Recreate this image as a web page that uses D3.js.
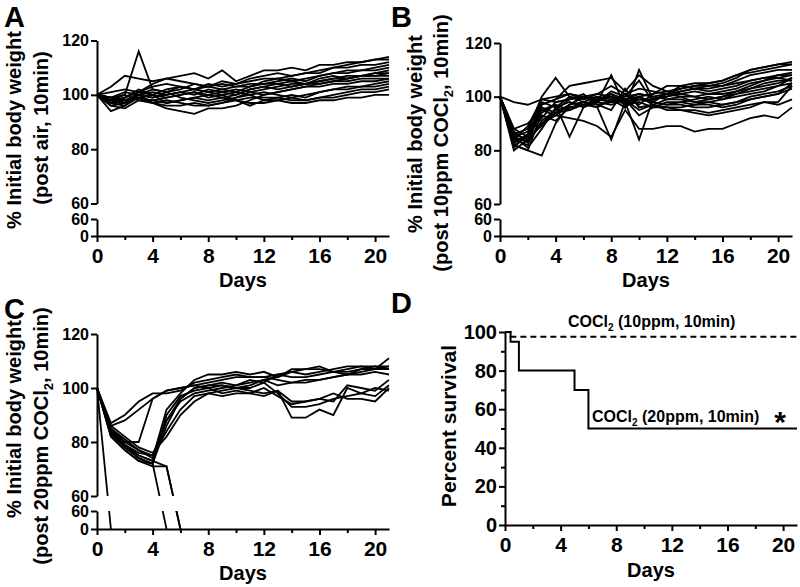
<!DOCTYPE html>
<html>
<head>
<meta charset="utf-8">
<script src="https://cdn.jsdelivr.net/npm/d3@7"></script>
<style>
  body { margin: 0; background: #fff; }
  text { font-family: Arial, "Liberation Sans", sans-serif; font-weight: bold; fill: #000; }
</style>
</head>
<body>
<svg id="fig" width="800" height="587"></svg>
<script>
// days 0..21, one weighing per day
var days = [0, 1, 2, 3, 4, 5, 6, 7, 8, 9, 10, 11, 12, 13, 14, 15, 16, 17, 18, 19, 20, 21];
var xTicks = [0, 4, 8, 12, 16, 20];
var xMinor = [2, 6, 10, 14, 18];
var upperTicks = [60, 80, 100, 120];
var lowerTicks = [0, 60];
var survTicks = [0, 20, 40, 60, 80, 100];
var survMinor = [10, 30, 50, 70, 90];

// A: air, 10 min
var weightAir = [
  [100, 98, 100, 116, 102, 101, 103, 102, 104, 103, 104, 105, 106, 106, 107, 108, 108, 110, 111, 112, 113, 114],
  [100, 103, 107, 106, 105, 106, 107, 108, 106, 109, 105, 107, 109, 109, 110, 109, 111, 111, 112, 112, 113, 113],
  [100, 96, 97, 101, 104, 106, 105, 104, 103, 105, 104, 106, 107, 108, 107, 108, 109, 110, 110, 111, 111, 112],
  [100, 99, 101, 100, 99, 101, 102, 104, 103, 102, 101, 103, 105, 106, 105, 106, 107, 108, 109, 109, 110, 111],
  [100, 97, 96, 100, 101, 100, 101, 102, 103, 104, 103, 104, 104, 105, 106, 105, 107, 108, 108, 109, 109, 110],
  [100, 94, 96, 99, 97, 95, 94, 93, 95, 95, 96, 98, 100, 101, 102, 103, 104, 105, 106, 107, 108, 109],
  [100, 98, 99, 102, 100, 97, 98, 99, 98, 99, 100, 102, 103, 104, 105, 104, 105, 106, 107, 107, 108, 108],
  [100, 99, 100, 98, 97, 98, 97, 96, 96, 97, 99, 101, 102, 103, 104, 104, 105, 106, 106, 107, 107, 108],
  [100, 101, 102, 101, 103, 104, 103, 102, 101, 102, 103, 103, 104, 104, 103, 104, 106, 107, 106, 107, 107, 107],
  [100, 97, 98, 100, 99, 100, 101, 100, 102, 101, 100, 102, 103, 102, 103, 104, 104, 105, 105, 106, 106, 106],
  [100, 96, 95, 98, 98, 99, 100, 101, 100, 101, 102, 101, 100, 101, 102, 103, 103, 104, 104, 105, 105, 106],
  [100, 98, 97, 99, 100, 102, 103, 102, 101, 100, 98, 96, 98, 99, 100, 99, 101, 102, 103, 103, 104, 105],
  [100, 99, 98, 100, 102, 101, 99, 98, 97, 98, 99, 100, 101, 100, 99, 100, 101, 102, 102, 103, 103, 104],
  [100, 97, 99, 101, 100, 99, 100, 101, 99, 100, 101, 100, 98, 98, 99, 98, 99, 100, 101, 102, 102, 103],
  [100, 98, 97, 100, 97, 96, 96, 97, 96, 97, 98, 99, 99, 99, 98, 98, 99, 99, 100, 101, 101, 102],
  [100, 99, 98, 99, 98, 97, 98, 99, 100, 99, 98, 97, 97, 98, 97, 97, 98, 98, 99, 99, 100, 100]
];

// B: 10 ppm COCl2, 10 min
var weight10 = [
  [100, 98, 97, 99, 100, 101, 100, 99, 98, 99, 100, 101, 102, 103, 104, 105, 106, 108, 109, 110, 111, 112],
  [100, 82, 80, 78, 90, 97, 100, 98, 108, 96, 110, 99, 101, 104, 105, 105, 106, 108, 110, 111, 112, 113],
  [100, 85, 87, 100, 107, 100, 98, 96, 84, 98, 100, 98, 101, 103, 104, 104, 105, 107, 110, 111, 112, 112],
  [100, 80, 84, 95, 97, 85, 96, 99, 100, 98, 84, 99, 100, 102, 103, 104, 104, 106, 108, 109, 110, 110],
  [100, 88, 90, 95, 93, 92, 91, 89, 85, 95, 88, 88, 89, 89, 87, 88, 88, 90, 92, 93, 92, 96],
  [100, 84, 82, 97, 99, 104, 105, 106, 107, 102, 108, 104, 102, 101, 100, 99, 100, 102, 104, 106, 108, 109],
  [100, 86, 88, 98, 96, 100, 99, 101, 104, 101, 103, 102, 101, 100, 98, 98, 97, 98, 100, 101, 102, 104],
  [100, 83, 85, 96, 94, 97, 98, 100, 99, 100, 106, 98, 97, 97, 96, 96, 97, 98, 99, 100, 101, 103],
  [100, 87, 83, 90, 95, 96, 97, 99, 101, 97, 98, 96, 96, 95, 95, 94, 95, 96, 97, 98, 97, 99],
  [100, 81, 86, 92, 98, 99, 101, 97, 98, 99, 95, 97, 99, 100, 100, 101, 102, 103, 105, 106, 107, 108],
  [100, 85, 81, 88, 96, 98, 96, 98, 102, 100, 101, 100, 101, 102, 103, 103, 104, 105, 106, 107, 107, 106],
  [100, 84, 89, 99, 98, 99, 100, 98, 97, 99, 101, 100, 99, 99, 98, 99, 100, 101, 103, 104, 105, 107],
  [100, 82, 80, 94, 97, 95, 98, 97, 95, 103, 96, 97, 96, 96, 97, 97, 96, 97, 99, 100, 101, 105],
  [100, 86, 84, 90, 93, 97, 100, 101, 100, 98, 99, 98, 97, 98, 99, 100, 99, 100, 101, 102, 104, 107],
  [100, 83, 86, 97, 99, 101, 99, 100, 98, 101, 97, 101, 104, 104, 103, 102, 103, 104, 106, 107, 108, 108],
  [100, 88, 85, 93, 91, 96, 97, 96, 99, 96, 100, 97, 95, 95, 94, 93, 94, 95, 96, 98, 98, 104],
  [100, 85, 83, 91, 95, 99, 100, 98, 101, 99, 93, 96, 98, 98, 97, 98, 99, 101, 102, 103, 104, 105],
  [100, 82, 85, 89, 94, 95, 97, 99, 100, 97, 99, 99, 100, 101, 102, 101, 101, 102, 103, 105, 106, 106]
];

// C: 20 ppm COCl2, 10 min (survivors, then animals that died)
var weight20 = [
  [100, 87, 90, 95, 98, 98, 99, 102, 103, 104, 105, 104, 104, 103, 102, 103, 103, 104, 105, 106, 107, 108],
  [100, 86, 88, 92, 96, 99, 100, 101, 102, 103, 104, 104, 104, 105, 106, 105, 106, 107, 108, 108, 108, 108],
  [100, 84, 80, 77, 74, 92, 98, 103, 105, 105, 106, 105, 106, 104, 107, 107, 108, 106, 105, 107, 107, 111],
  [100, 83, 78, 74, 72, 86, 96, 100, 101, 101, 100, 101, 103, 104, 106, 107, 107, 106, 107, 108, 107, 107],
  [100, 82, 77, 73, 72, 90, 97, 99, 100, 101, 100, 99, 98, 99, 95, 95, 96, 95, 101, 100, 99, 103],
  [100, 85, 80, 80, 96, 99, 100, 101, 100, 98, 99, 98, 100, 97, 94, 95, 96, 98, 96, 96, 95, 100],
  [100, 84, 78, 75, 73, 88, 95, 98, 99, 100, 101, 102, 103, 101, 102, 102, 103, 104, 105, 105, 106, 105],
  [100, 83, 79, 76, 75, 84, 92, 97, 98, 97, 98, 98, 97, 99, 89, 89, 92, 90, 100, 98, 97, 101],
  [100, 86, 82, 78, 76, 82, 90, 95, 98, 99, 100, 100, 102, 98, 93, 93, 94, 96, 97, 98, 100, 99],
  [100, 85, 81, 77, 75, 88, 96, 100, 101, 102, 101, 103, 102, 105, 104, 104, 105, 106, 106, 107, 108, 107]
];
var dead20 = [
  [100, 0],
  [100, 83, 78, 74, 72, 0],
  [100, 82, 77, 73, 71, 71, 0],
  [100, 84, 79, 75, 73, 71, 0]
];

// D: Kaplan-Meier survival
var survDays10 = [0, 0.4, 21];
var survPct10 = [100, 97.6, 97.6];
var survDays20 = [0, 0.4, 1, 5, 6, 21];
var survPct20 = [100, 95, 80, 70, 50, 50];

var svg = d3.select("#fig");
var clipId = 0;

function styleAxis(g) {
  g.selectAll("path, line").attr("stroke", "#000").attr("stroke-width", 2);
  g.selectAll("text").attr("fill", "#000");
}

function weightPanel(opt) {
  var g = svg.append("g");
  var x = d3.scaleLinear().domain([0, 21]).range([opt.x0, opt.x0 + 292]);
  var yUp = d3.scaleLinear().domain([60, 120]).range([opt.yBreak, opt.yTop]);
  var yLow = d3.scaleLinear().domain([0, 60]).range([opt.yBase, opt.yLowTop]);
  var y = function (v) { return v >= 60 ? yUp(v) : yLow(v); };

  // two clip strips so the gap of the broken axis stays empty
  var strips = [[0, opt.yBreak], [opt.yLowTop, opt.yBase]];
  strips.forEach(function (s) {
    clipId++;
    s.id = "clip" + clipId;
    svg.append("clipPath").attr("id", s.id)
      .append("rect")
      .attr("x", opt.x0 - 5).attr("y", s[0])
      .attr("width", 310).attr("height", s[1] - s[0]);
  });

  var line = d3.line()
    .x(function (d, i) { return x(days[i]); })
    .y(function (d) { return y(d); });

  var all = opt.series.concat(opt.dead || []);
  strips.forEach(function (s) {
    g.append("g")
      .attr("clip-path", "url(#" + s.id + ")")
      .selectAll("path")
      .data(all)
      .enter()
      .append("path")
      .attr("d", line)
      .attr("fill", "none")
      .attr("stroke", "#000")
      .attr("stroke-width", 1.8)
      .attr("stroke-linejoin", "miter");
  });

  // axes
  g.append("g")
    .attr("transform", "translate(" + opt.x0 + ",0)")
    .call(d3.axisLeft(yUp).tickValues(upperTicks).tickSize(6).tickSizeOuter(0).tickPadding(2))
    .call(styleAxis)
    .selectAll("text").style("font-size", "16px");
  g.append("g")
    .attr("transform", "translate(" + opt.x0 + ",0)")
    .call(d3.axisLeft(yLow).tickValues(lowerTicks).tickSize(6).tickSizeOuter(0).tickPadding(2))
    .call(styleAxis)
    .selectAll("text").style("font-size", "16px");
  g.append("g")
    .attr("transform", "translate(0," + opt.yBase + ")")
    .call(d3.axisBottom(x).tickValues(xTicks).tickSize(6).tickSizeOuter(0).tickPadding(6))
    .call(styleAxis)
    .selectAll("text").style("font-size", "21px");
  g.append("g")
    .attr("transform", "translate(0," + opt.yBase + ")")
    .call(d3.axisBottom(x).tickValues(xMinor).tickSize(4).tickFormat(""))
    .call(styleAxis)
    .select(".domain").remove();

  // labels
  g.append("text").attr("x", opt.letterX).attr("y", opt.letterY)
    .style("font-size", "29px").text(opt.letter);
  opt.titles.forEach(function (t) {
    var tx = g.append("text")
      .attr("transform", "translate(" + t.x + "," + t.y + ") rotate(-90)")
      .attr("text-anchor", "middle")
      .style("font-size", "20px");
    if (t.sub) {
      tx.append("tspan").text(t.text);
      tx.append("tspan").attr("dy", 5).style("font-size", "13px").text("2");
      tx.append("tspan").attr("dy", -5).text(t.after);
    } else {
      tx.text(t.text);
    }
  });
  g.append("text").attr("x", opt.x0 + 146).attr("y", opt.yBase + 51)
    .attr("text-anchor", "middle").style("font-size", "20px").text("Days");
}

weightPanel({
  x0: 97, yTop: 40.5, yBreak: 203.5, yLowTop: 219, yBase: 236,
  series: weightAir, letter: "A", letterX: 4, letterY: 27,
  titles: [
    { x: 21, y: 130, text: "% Initial body weight" },
    { x: 48, y: 128, text: "(post air, 10min)" }
  ]
});

weightPanel({
  x0: 500, yTop: 43, yBreak: 204, yLowTop: 219, yBase: 236,
  series: weight10, letter: "B", letterX: 391, letterY: 27,
  titles: [
    { x: 422, y: 134, text: "% Initial body weight" },
    { x: 448, y: 143, text: "(post 10ppm COCl", sub: true, after: ", 10min)" }
  ]
});

weightPanel({
  x0: 97, yTop: 334, yBreak: 496, yLowTop: 511, yBase: 529,
  series: weight20, dead: dead20, letter: "C", letterX: 4, letterY: 319,
  titles: [
    { x: 21, y: 419, text: "% Initial body weight" },
    { x: 48, y: 436, text: "(post 20ppm COCl", sub: true, after: ", 10min)" }
  ]
});

// D: survival
(function () {
  var g = svg.append("g");
  var x = d3.scaleLinear().domain([0, 21]).range([505, 797]);
  var y = d3.scaleLinear().domain([0, 100]).range([525, 332]);

  var step = d3.line()
    .x(function (d) { return x(d[0]); })
    .y(function (d) { return y(d[1]); })
    .curve(d3.curveStepAfter);

  g.append("path")
    .attr("d", step(d3.zip(survDays10, survPct10)))
    .attr("fill", "none").attr("stroke", "#000")
    .attr("stroke-width", 2).attr("stroke-dasharray", "6,4");
  g.append("path")
    .attr("d", step(d3.zip(survDays20, survPct20)))
    .attr("fill", "none").attr("stroke", "#000")
    .attr("stroke-width", 2);

  g.append("g")
    .attr("transform", "translate(505,0)")
    .call(d3.axisLeft(y).tickValues(survTicks).tickSize(6).tickSizeOuter(0).tickPadding(2))
    .call(styleAxis)
    .selectAll("text").style("font-size", "20px");
  g.append("g")
    .attr("transform", "translate(505,0)")
    .call(d3.axisLeft(y).tickValues(survMinor).tickSize(4).tickFormat(""))
    .call(styleAxis)
    .select(".domain").remove();
  g.append("g")
    .attr("transform", "translate(0,525)")
    .call(d3.axisBottom(x).tickValues(xTicks).tickSize(6).tickSizeOuter(0).tickPadding(6))
    .call(styleAxis)
    .selectAll("text").style("font-size", "21px");
  g.append("g")
    .attr("transform", "translate(0,525)")
    .call(d3.axisBottom(x).tickValues(xMinor).tickSize(4).tickFormat(""))
    .call(styleAxis)
    .select(".domain").remove();

  g.append("text").attr("x", 391).attr("y", 313).style("font-size", "29px").text("D");
  g.append("text")
    .attr("transform", "translate(456,426) rotate(-90)")
    .attr("text-anchor", "middle").style("font-size", "21px")
    .text("Percent survival");
  g.append("text").attr("x", 651).attr("y", 577)
    .attr("text-anchor", "middle").style("font-size", "20px").text("Days");

  var l1 = g.append("text").attr("x", 568).attr("y", 327).style("font-size", "16px");
  l1.append("tspan").text("COCl");
  l1.append("tspan").attr("dy", 4).style("font-size", "10px").text("2");
  l1.append("tspan").attr("dy", -4).text(" (10ppm, 10min)");

  var l2 = g.append("text").attr("x", 592).attr("y", 422).style("font-size", "16px");
  l2.append("tspan").text("COCl");
  l2.append("tspan").attr("dy", 4).style("font-size", "10px").text("2");
  l2.append("tspan").attr("dy", -4).text(" (20ppm, 10min)");

  g.append("text").attr("x", 780).attr("y", 432)
    .attr("text-anchor", "middle").style("font-size", "30px").text("*");
})();
</script>
</body>
</html>
